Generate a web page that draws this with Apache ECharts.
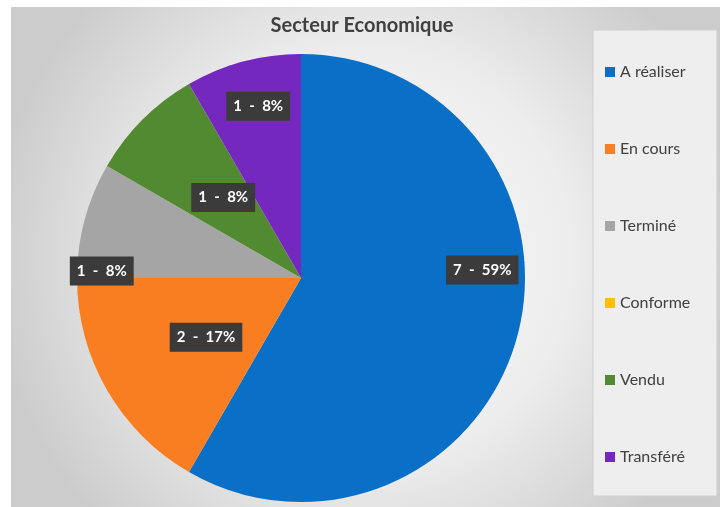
<!DOCTYPE html>
<html>
<head>
<meta charset="utf-8">
<script src="https://cdn.jsdelivr.net/npm/echarts@6/dist/echarts.min.js"></script>
<style>
  html, body { margin: 0; padding: 0; background: #ffffff; }
  #chart { width: 724px; height: 507px; }
</style>
</head>
<body>
<div id="chart"></div>
<script>
// ---- data ----
var categories = ['A réaliser', 'En cours', 'Terminé', 'Conforme', 'Vendu', 'Transféré'];
var values = [7, 2, 1, 0, 1, 1];
var colors = ['#0a6fc6', '#f97d21', '#a5a5a5', '#ffc000', '#518a30', '#7428bd'];
var chartTitle = 'Secteur Economique';

// label placement styling (fraction of radius, angular shift in degrees)
var labelRadius = [0.81, 0.50, 0.89, 0.5, 0.50, 0.79];
var labelShift = [-17.5, -2, -13, 0, 1, 1];

var CX = 301, CY = 278, R = 224;
var total = values.reduce(function (a, b) { return a + b; }, 0);
var midAngles = [];
(function () {
  var acc = 0;
  for (var i = 0; i < values.length; i++) {
    var a0 = acc / total * 360;
    acc += values[i];
    var a1 = acc / total * 360;
    midAngles.push((a0 + a1) / 2);
  }
})();

var FONT = 'Lato, "Open Sans", sans-serif';

var chart = echarts.init(document.getElementById('chart'), null, { renderer: 'canvas' });

var option = {
  animation: false,
  backgroundColor: '#ffffff',
  graphic: [
    {
      type: 'rect', z: -10, silent: true,
      shape: { x: 11, y: 7, width: 709, height: 500 },
      style: {
        fill: {
          type: 'radial', x: 0.5, y: 0.5, r: 0.75,
          colorStops: [
            { offset: 0, color: '#fbfbfb' },
            { offset: 0.55, color: '#ededed' },
            { offset: 1, color: '#cccccc' }
          ]
        }
      }
    },
    {
      type: 'rect', z: -5, silent: true,
      shape: { x: 593, y: 30, width: 124, height: 466 },
      style: { fill: '#eeeeee', stroke: '#cfcfcf', lineWidth: 1 }
    }
  ],
  title: {
    text: chartTitle,
    left: 'center',
    top: 11,
    textStyle: { fontFamily: FONT, fontSize: 20, fontWeight: 'bold', color: '#404040' }
  },
  legend: {
    orient: 'vertical',
    left: 605,
    top: 64,
    padding: 0,
    itemWidth: 10,
    itemHeight: 10,
    itemGap: 61,
    icon: 'rect',
    data: categories,
    textStyle: { fontFamily: FONT, fontSize: 16, color: '#404040' }
  },
  series: [{
    type: 'pie',
    center: [CX, CY],
    radius: [0, R],
    startAngle: 90,
    clockwise: true,
    percentPrecision: 0,
    avoidLabelOverlap: false,
    itemStyle: { borderWidth: 0 },
    emphasis: { disabled: true },
    label: {
      show: true,
      position: 'inside',
      formatter: '{c}  -  {d}%',
      color: '#ffffff',
      fontFamily: FONT,
      fontSize: 15,
      fontWeight: 'bold',
      backgroundColor: '#3b3b3b',
      padding: [7, 7]
    },
    labelLayout: function (params) {
      var i = params.dataIndex;
      var a = (midAngles[i] + labelShift[i]) * Math.PI / 180;
      var d = labelRadius[i] * R;
      return {
        x: CX + d * Math.sin(a),
        y: CY - d * Math.cos(a),
        align: 'center',
        verticalAlign: 'middle'
      };
    },
    data: categories.map(function (name, i) {
      return {
        name: name,
        value: values[i],
        itemStyle: { color: colors[i] },
        label: { show: values[i] > 0 }
      };
    })
  }]
};
option.color = colors;
chart.setOption(option);
</script>
</body>
</html>
